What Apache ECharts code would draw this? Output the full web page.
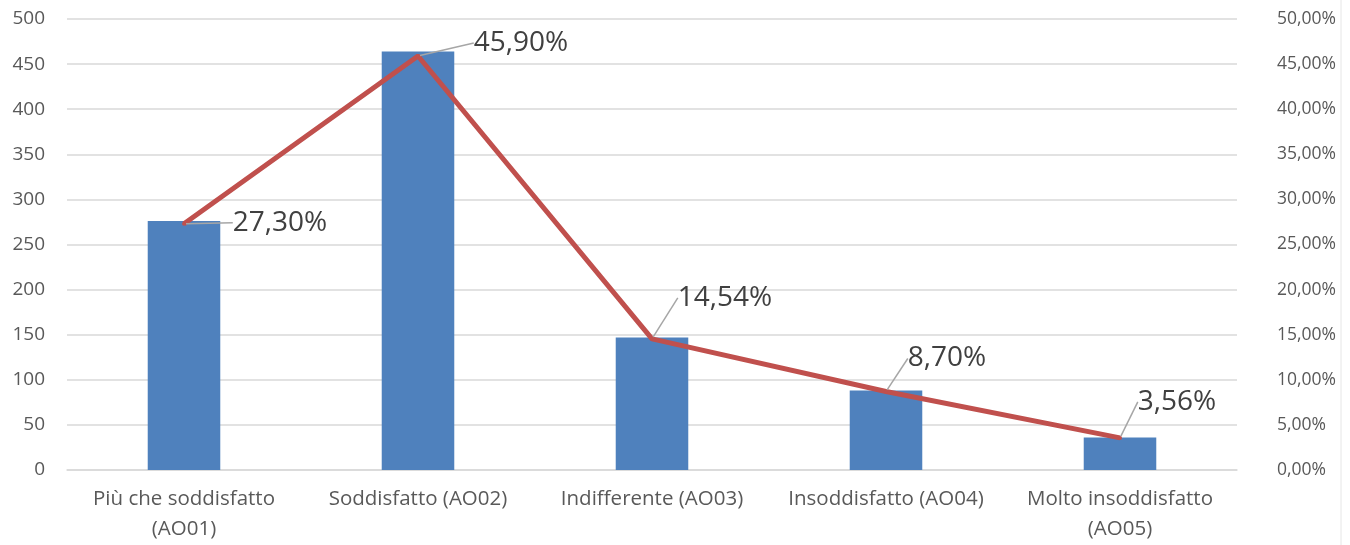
<!DOCTYPE html>
<html>
<head>
<meta charset="utf-8">
<script src="https://cdn.jsdelivr.net/npm/echarts@6/dist/echarts.min.js"></script>
<style>
  html, body { margin: 0; padding: 0; background: #fff; }
  #chart { width: 1350px; height: 545px; }
</style>
</head>
<body>
<div id="chart"></div>
<script>
// categorie asse X
var categories = ['Più che soddisfatto\n(AO01)', 'Soddisfatto (AO02)', 'Indifferente (AO03)', 'Insoddisfatto (AO04)', 'Molto insoddisfatto\n(AO05)'];
// numero risposte (barre)
var counts = [276, 464, 147, 88, 36];
// percentuali (linea)
var percents = [27.30, 45.90, 14.54, 8.70, 3.56];

// spostamento etichette percentuali (dx, dy)
var labelShift = [[96, 20], [103, 8], [73, -20], [61, -12], [57, -15]];

var fmtPct = function (v) { return v.toFixed(2).replace('.', ',') + '%'; };

var chart = echarts.init(document.getElementById('chart'));
chart.setOption({
  animation: false,
  textStyle: { fontFamily: 'Open Sans' },
  grid: { left: 67, right: 113, top: 19, bottom: 75 },
  xAxis: {
    type: 'category',
    data: categories,
    axisTick: { show: false },
    axisLine: { lineStyle: { color: '#d9d9d9', width: 1.5 } },
    axisLabel: { color: '#595959', fontSize: 20.5, lineHeight: 30, margin: 14, interval: 0 }
  },
  yAxis: [{
    type: 'value',
    min: 0, max: 500, interval: 50,
    axisLine: { show: false },
    axisTick: { show: false },
    splitLine: { lineStyle: { color: '#d9d9d9', width: 1.5 } },
    axisLabel: { color: '#595959', fontSize: 19, margin: 22 }
  }, {
    type: 'value',
    position: 'right',
    min: 0, max: 50, interval: 5,
    axisLine: { show: false },
    axisTick: { show: false },
    splitLine: { show: false },
    axisLabel: { color: '#595959', fontSize: 17.5, margin: 40, formatter: fmtPct }
  }],
  series: [{
    type: 'bar',
    data: counts,
    barWidth: '31%',
    itemStyle: { color: '#4f81bd' }
  }, {
    type: 'line',
    yAxisIndex: 1,
    data: percents,
    symbol: 'circle',
    symbolSize: 4,
    itemStyle: { color: '#c0504d' },
    lineStyle: { color: '#c0504d', width: 5 },
    label: {
      show: true,
      position: 'top',
      fontSize: 28,
      color: '#404040',
      formatter: function (p) { return fmtPct(p.value); }
    },
    labelLine: { show: true, lineStyle: { color: '#a6a6a6', width: 1.5 } },
    labelLayout: function (p) {
      var s = labelShift[p.dataIndex];
      return { dx: s[0], dy: s[1] };
    },
    z: 3
  }],
  graphic: [{
    type: 'line',
    shape: { x1: 1341, y1: 0, x2: 1341, y2: 545 },
    style: { stroke: '#e6e6e6', lineWidth: 1 }
  }]
});
</script>
</body>
</html>
